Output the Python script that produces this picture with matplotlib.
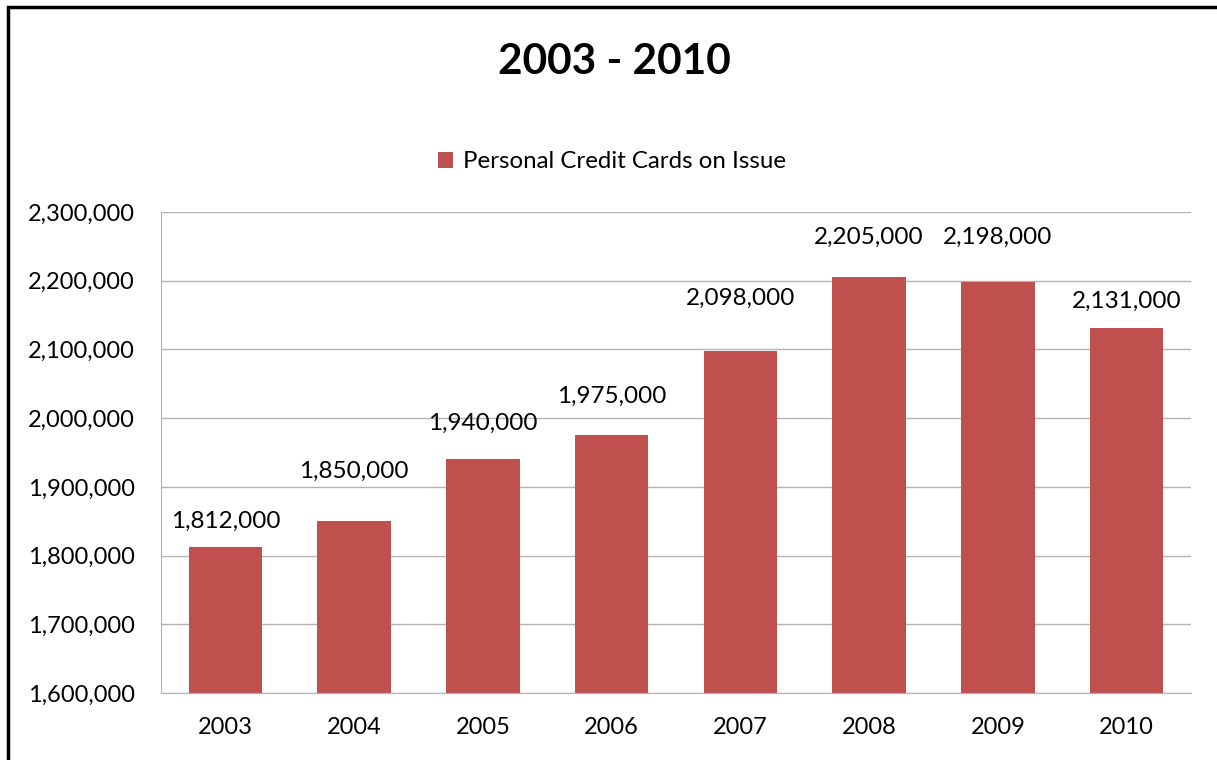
import matplotlib.pyplot as plt
from matplotlib.patches import Rectangle
from matplotlib.ticker import FuncFormatter

plt.rcParams['font.family'] = ['Lato', 'DejaVu Sans']

years = ["2003", "2004", "2005", "2006", "2007", "2008", "2009", "2010"]
cards = [1812000, 1850000, 1940000, 1975000, 2098000, 2205000, 2198000, 2131000]

# label lift above each bar, in pixels (Excel shuffles them to avoid overlaps)
label_lift = [26, 50, 36, 39, 52, 40, 45, 27]

bar_color = '#C0504D'
grid_color = '#B3B3B3'

fig = plt.figure(figsize=(12.17, 7.6), dpi=100)
ax = fig.add_axes([161 / 1217, 1 - 693 / 760, (1191 - 161) / 1217, (693 - 212) / 760])

bars = ax.bar(years, cards, width=0.57, color=bar_color, zorder=2,
              label='Personal Credit Cards on Issue')

ax.set_ylim(1600000, 2300000)
ax.set_xlim(-0.5, len(years) - 0.5)
ax.set_yticks(range(1600000, 2300001, 100000))
ax.yaxis.set_major_formatter(FuncFormatter(lambda v, p: f'{int(v):,}'))
ax.grid(axis='y', color=grid_color, linewidth=1, zorder=0)
ax.tick_params(axis='both', length=0, labelsize=17, colors='black')
ax.tick_params(axis='y', pad=19)
ax.tick_params(axis='x', pad=17)

for s in ['top', 'right']:
    ax.spines[s].set_visible(False)
ax.spines['left'].set_color(grid_color)
ax.spines['bottom'].set_color(grid_color)

for b, v, lift in zip(bars, cards, label_lift):
    ax.annotate(f'{v:,}', (b.get_x() + b.get_width() / 2, v),
                xytext=(0, lift * 0.72), textcoords='offset points',
                ha='center', va='center', fontsize=17.5)

fig.text(614 / 1217, 1 - 62 / 760, '2003 - 2010', ha='center', va='center',
         fontsize=30.5, fontweight='bold')

ax.legend(loc='center', bbox_to_anchor=(612 / 1217, 1 - 162 / 760),
          bbox_transform=fig.transFigure, frameon=False, fontsize=17.3,
          handlelength=0.6, handleheight=0.6, handletextpad=0.4)

# chart frame
fig.patches.append(Rectangle((8 / 1217, -0.05), 1.2, 1 - 7 / 760 + 0.05,
                             transform=fig.transFigure, fill=False,
                             edgecolor='black', linewidth=2.5))

fig.savefig('out.png', dpi=100)
